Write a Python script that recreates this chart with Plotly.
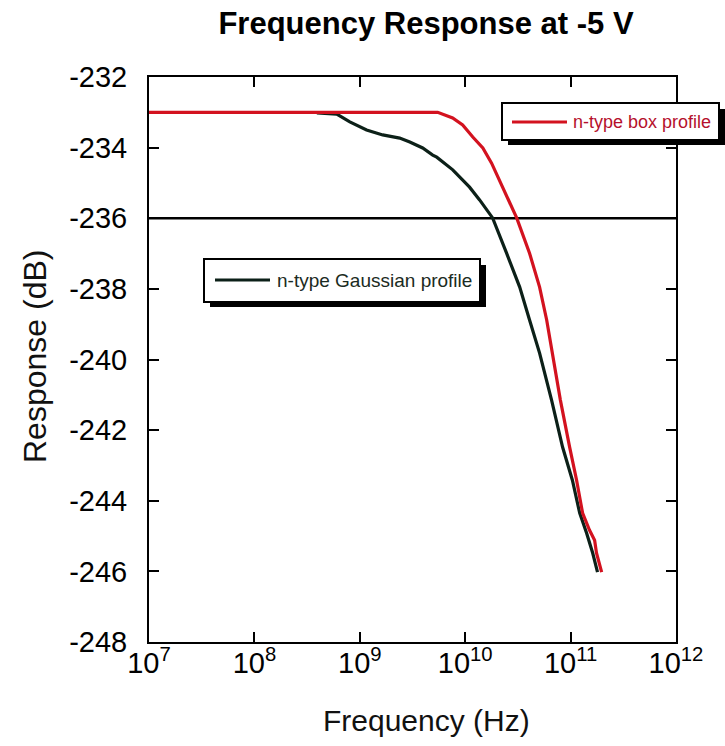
import plotly.graph_objects as go

# ---- data ----
box_freq = [1e7, 5.48e9, 7.60e9, 9.46e9, 1.18e10, 1.47e10, 1.78e10, 2.12e10, 2.53e10, 3.08e10,
            4.08e10, 5.08e10, 5.93e10, 6.75e10, 8.0e10, 9.79e10, 1.14e11, 1.30e11, 1.51e11,
            1.69e11, 1.76e11, 1.97e11]
box_resp = [-233.0, -233.0, -233.16, -233.36, -233.70, -234.01, -234.44, -234.92, -235.40, -235.99,
            -236.99, -237.95, -238.88, -239.82, -241.15, -242.48, -243.42, -244.35, -244.83,
            -245.12, -245.48, -246.02]

gauss_freq = [3.91e8, 6.05e8, 8.04e8, 1.16e9, 1.65e9, 2.39e9, 2.98e9, 3.95e9, 4.92e9, 5.37e9,
              7.62e9, 1.10e10, 1.37e10, 1.82e10, 2.47e10, 3.29e10, 4.08e10, 5.08e10, 6.6e10,
              8.39e10, 1.04e11, 1.22e11, 1.42e11, 1.62e11, 1.80e11]
gauss_resp = [-233.02, -233.05, -233.27, -233.50, -233.64, -233.73, -233.84, -234.01, -234.21, -234.27,
              -234.63, -235.12, -235.48, -235.99, -236.99, -237.95, -238.88, -239.82, -241.15,
              -242.48, -243.42, -244.35, -244.92, -245.48, -246.02]

ref_freq = [1e7, 1e12]
ref_resp = [-236, -236]

x_tickvals = [1e7, 1e8, 1e9, 1e10, 1e11, 1e12]
x_ticktext = ["10<sup>7</sup>", "10<sup>8</sup>", "10<sup>9</sup>", "10<sup>10</sup>",
              "10<sup>11</sup>", "10<sup>12</sup>"]
y_tickvals = [-248, -246, -244, -242, -240, -238, -236, -234, -232]
y_ticktext = ["-248", "-246", "-244", "-242", "-240", "-238", "-236", "-234", "-232"]

series_names = ["n-type box profile", "n-type Gaussian profile"]

# ---- layout geometry (pixels) ----
W, H = 725, 746
L, R, T, B = 149, 49, 77, 104
PW, PH = W - L - R, H - T - B
FONT = "Liberation Sans, Arial, sans-serif"
RED = "#d3121f"
DARK = "#0c2018"


def px(x):
    return (x - L) / PW


def py(y):
    return (H - B - y) / PH


fig = go.Figure()
fig.add_trace(go.Scatter(x=ref_freq, y=ref_resp, mode="lines",
                         line=dict(color="#000000", width=2.5), showlegend=False))
fig.add_trace(go.Scatter(x=gauss_freq, y=gauss_resp, mode="lines", name=series_names[1],
                         line=dict(color=DARK, width=3.2), showlegend=False))
fig.add_trace(go.Scatter(x=box_freq, y=box_resp, mode="lines", name=series_names[0],
                         line=dict(color=RED, width=3.2), showlegend=False))

shapes = []
annotations = []


def legend_box(x0, y0, x1, y1, lx0, lx1, ly, color, text, tcolor, tx, fs):
    shapes.append(dict(type="rect", xref="paper", yref="paper",
                       x0=px(x0 + 6), x1=px(x1 + 6), y0=py(y0 + 6), y1=py(y1 + 5),
                       fillcolor="#000000", line=dict(width=0), layer="above"))
    shapes.append(dict(type="rect", xref="paper", yref="paper",
                       x0=px(x0), x1=px(x1), y0=py(y0), y1=py(y1),
                       fillcolor="#ffffff", line=dict(color="#000000", width=2), layer="above"))
    shapes.append(dict(type="line", xref="paper", yref="paper",
                       x0=px(lx0), x1=px(lx1), y0=py(ly), y1=py(ly),
                       line=dict(color=color, width=3), layer="above"))
    annotations.append(dict(xref="paper", yref="paper", x=px(tx), y=py(ly),
                            xanchor="left", yanchor="middle", showarrow=False,
                            text=text, font=dict(family=FONT, size=fs, color=tcolor)))


legend_box(502, 103, 719, 140, 512, 567, 122, RED, series_names[0], "#b5102c", 571, 18)
legend_box(204, 259, 480, 302, 215, 270, 280, DARK, series_names[1], "#1b2b22", 275, 19)

annotations.append(dict(xref="paper", yref="paper", x=px(426), y=py(720),
                        xanchor="center", yanchor="middle", showarrow=False,
                        text="Frequency (Hz)", font=dict(family=FONT, size=30, color="#111111")))
annotations.append(dict(xref="paper", yref="paper", x=px(35), y=py(357),
                        xanchor="center", yanchor="middle", showarrow=False, textangle=-90,
                        text="Response (dB)", font=dict(family=FONT, size=32, color="#111111")))

axis_common = dict(showline=True, linecolor="#000000", linewidth=2, mirror="ticks",
                   ticks="inside", ticklen=10, tickwidth=1.5, tickcolor="#000000",
                   showgrid=False, zeroline=False,
                   tickfont=dict(family=FONT, size=29, color="#000000"))

fig.update_layout(
    width=W, height=H,
    margin=dict(l=L, r=R, t=T, b=B),
    paper_bgcolor="#ffffff", plot_bgcolor="#ffffff",
    title=dict(text="Frequency Response at -5 V", x=426 / W, xanchor="center",
               xref="container", yref="container", y=1 - 23 / H, yanchor="middle",
               font=dict(family=FONT, size=31, color="#000000", weight="bold")),
    xaxis=dict(type="log", range=[7, 12], tickvals=x_tickvals, ticktext=x_ticktext,
               ticklabelstandoff=-6, **axis_common),
    yaxis=dict(range=[-248, -232], tickvals=y_tickvals, ticktext=y_ticktext,
               ticklabelstandoff=14, **axis_common),
    shapes=shapes,
    annotations=annotations,
    showlegend=False,
)

fig.write_html("out.html")
